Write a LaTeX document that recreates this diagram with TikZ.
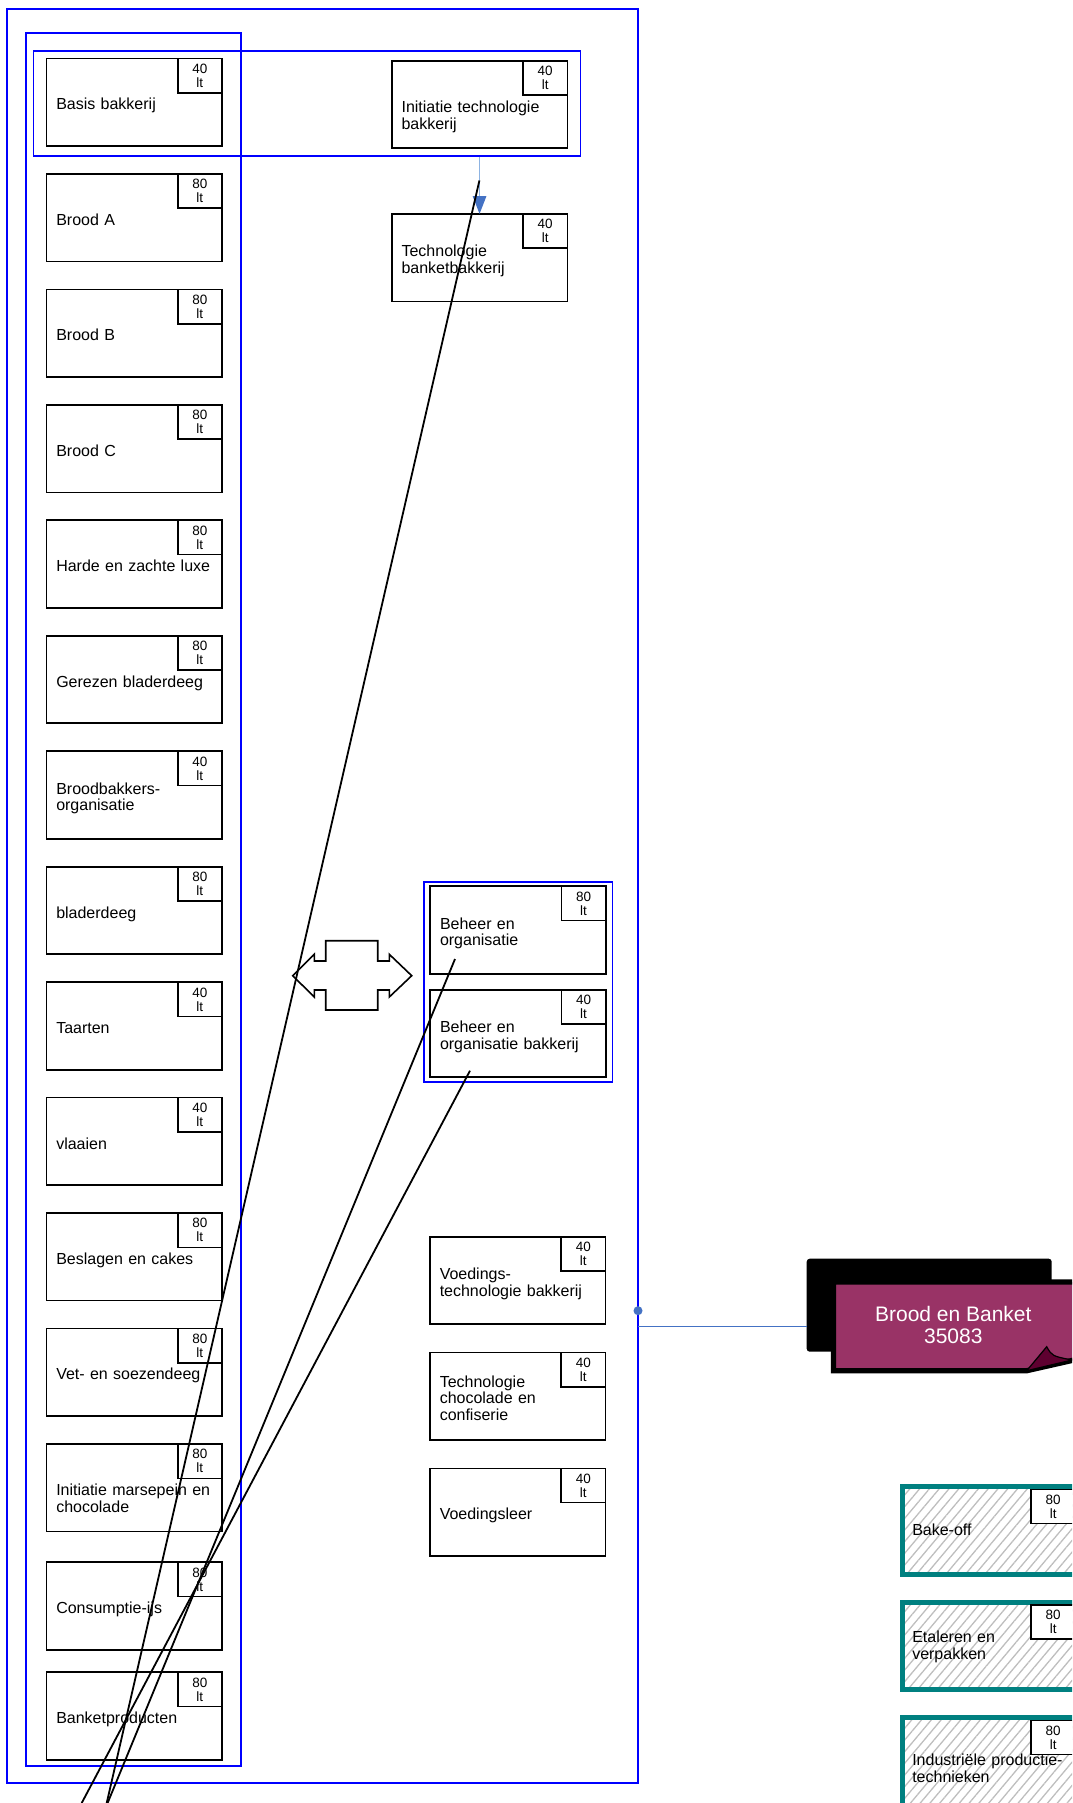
\documentclass[tikz,border=0pt]{standalone}
\usepackage{fontspec}
\setmainfont{Liberation Sans}
\usetikzlibrary{positioning,fit,arrows.meta,patterns.meta}
\definecolor{groupblue}{HTML}{0000FF}
\definecolor{linkblue}{HTML}{4472C4}
\definecolor{flowblue}{HTML}{8DB3E2}
\definecolor{plum}{HTML}{993366}
\definecolor{darkplum}{HTML}{5E0030}
\definecolor{tealedge}{HTML}{008080}
\definecolor{hatchgray}{HTML}{BEBEBE}
\tikzset{
  every node/.style={
    font=\fontsize{16pt}{16.7pt}\selectfont
  },
  course/.style={
    shape=rectangle,
    draw=black,
    line width=1.6pt,
    minimum height=87.5pt,
    text width=156pt,
    inner xsep=9.75pt,
    inner ysep=0pt,
    outer sep=0pt,
    align=left,
    execute at begin node=\strut,
    execute at end node=\strut
  },
  elective/.style={
    course,
    draw=tealedge,
    line width=5.3pt,
    pattern={Lines[angle=50,distance=7.5pt,line width=1.3pt]},
    pattern color=hatchgray
  },
  hours/.style={
    shape=rectangle,
    draw=black,
    line width=1.6pt,
    fill=white,
    minimum width=44.3pt,
    minimum height=34.3pt,
    inner sep=0pt,
    outer sep=0pt,
    anchor=north east,
    align=center,
    font=\fontsize{13.5pt}{14pt}\selectfont
  },
  midtext/.style={text height=20.2pt},
  lowtext/.style={text height=37.5pt},
  midnote/.style={text height=15.2pt},
  lownote/.style={text height=30.5pt},
  group/.style={
    draw=groupblue,
    line width=1.5pt
  },
  flow/.style={
    draw=flowblue,
    line width=1.5pt,
    -{Triangle[length=17.7pt,width=13.3pt,color=linkblue]}
  },
  link/.style={
    draw=linkblue,
    line width=1pt
  },
  wire/.style={
    draw=black,
    line width=1.8pt
  },
  junction/.style={
    shape=circle,
    fill=linkblue,
    minimum size=9pt,
    inner sep=0pt
  }
}

\begin{document}
\begin{tikzpicture}[x=1pt,y=-1pt]
  \path[use as bounding box] (0,0) rectangle (1072,1803);
  \clip (0,0) rectangle (1072,1803);

  % left column
  \foreach \y/\hrs/\txtpos/\txt [count=\i] in {
      102.25/40/midtext/Basis bakkerij,
      217.7/80/midtext/Brood A,
      333.2/80/midtext/Brood B,
      448.6/80/midtext/Brood C,
      564.0/80/midtext/Harde en zachte luxe,
      679.5/80/midtext/Gerezen bladerdeeg,
      795.0/40/midtext/{Broodbakkers-\\organisatie},
      910.5/80/midtext/bladerdeeg,
      1026.0/40/midtext/Taarten,
      1141.4/40/midtext/vlaaien,
      1256.8/80/midtext/Beslagen en cakes,
      1372.3/80/midtext/Vet- en soezendeeg,
      1487.8/80/lowtext/{Initiatie marsepein en\\chocolade},
      1606.0/80/midtext/Consumptie-ijs,
      1716.0/80/midtext/Banketproducten}
  {
    \node[course,\txtpos] (lc\i) at (134.25,\y) {\txt};
    \node[hours] (lc\i-hrs) at (lc\i.north east) {\hrs\\lt};
  }

  % right column
  \node[course,lowtext] (itb) at (479.55,104.5) {Initiatie technologie\\bakkerij};
  \node[hours] (itb-hrs) at (itb.north east) {40\\lt};
  \node[course,midtext,below=65.7pt of itb] (tbb) {Technologie\\banketbakkerij};
  \node[hours] (tbb-hrs) at (tbb.north east) {40\\lt};

  \node[course,midtext] (beo) at (518,930) {Beheer en\\organisatie};
  \node[hours] (beo-hrs) at (beo.north east) {80\\lt};
  \node[course,midtext,below=16pt of beo] (beob) {Beheer en\\organisatie bakkerij};
  \node[hours] (beob-hrs) at (beob.north east) {40\\lt};

  \node[course,midtext] (vtb) at (517.75,1280.5) {Voedings-\\technologie bakkerij};
  \node[hours] (vtb-hrs) at (vtb.north east) {40\\lt};
  \node[course,midtext,below=28.3pt of vtb] (tcc) {Technologie\\chocolade en\\confiserie};
  \node[hours] (tcc-hrs) at (tcc.north east) {40\\lt};
  \node[course,midtext,below=28.3pt of tcc] (vl) {Voedingsleer};
  \node[hours] (vl-hrs) at (vl.north east) {40\\lt};

  % groups
  \draw[group] (7,9) rectangle (638,1783);
  \draw[group] (26,33) rectangle (241,1766);
  \node[group,fit=(lc1)(itb),inner xsep=13pt,inner ysep=7.6pt] (toprow) {};
  \node[group,fit=(beo)(beob),inner xsep=6.5pt,inner ysep=4.5pt] (beheer) {};

  \draw[flow] (toprow.south -| tbb.north) -- (tbb.north);

  % double arrow
  \draw[line width=1.6pt,fill=white] (292.7,975.7) -- (314.3,954.3) -- (314.3,961)
    -- (325.7,961) -- (325.7,940.7) -- (377.7,940.7) -- (377.7,961) -- (389.3,961)
    -- (389.3,954.3) -- (411.7,975.7) -- (389.3,997) -- (389.3,990) -- (377.7,990)
    -- (377.7,1010) -- (325.7,1010) -- (325.7,990) -- (314.3,990) -- (314.3,997) -- cycle;

  % qualification
  \node[junction] (jp) at (638,1310.7) {};
  \coordinate (port) at (638,1326.7);
  \node[fill=black,rounded corners=3pt,minimum width=245pt,minimum height=93pt,inner sep=0pt] (bbback) at (929.2,1305.2) {};
  \draw[link] (port) -- (port -| bbback.west);
  \draw[line width=5.3pt,fill=plum] (833.4,1282) -- (1085,1282) -- (1085,1357.5)
    -- (1026.7,1370.7) -- (833.4,1370.7) -- cycle;
  \draw[line width=1.2pt,fill=darkplum] (1026.7,1370.7) .. controls (1036,1358) .. (1046.7,1346.7)
    .. controls (1052,1356) .. (1072,1360) -- cycle;
  \node[text=white,align=center,font=\fontsize{21pt}{21.7pt}\selectfont] (bbtext) at (953.3,1324.7) {Brood en Banket\\35083};

  % electives
  \node[elective,midnote] (bo) at (990.25,1530.4) {Bake-off};
  \node[hours,xshift=-2.65pt,yshift=-2.65pt] (bo-hrs) at (bo.north east) {80\\lt};
  \node[elective,midnote,below=28pt of bo] (ev) {Etaleren en\\verpakken};
  \node[hours,xshift=-2.65pt,yshift=-2.65pt] (ev-hrs) at (ev.north east) {80\\lt};
  \node[elective,lownote,below=28pt of ev] (ipt) {Industriële productie-\\technieken};
  \node[hours,xshift=-2.65pt,yshift=-2.65pt] (ipt-hrs) at (ipt.north east) {80\\lt};

  % loose connectors
  \coordinate (w1a) at (479.4,180.5);
  \coordinate (w1b) at (106.7,1803);
  \coordinate (w2a) at (455,959);
  \coordinate (w2b) at (107.6,1803);
  \coordinate (w3a) at (470,1070.7);
  \coordinate (w3b) at (81.7,1803);
  \draw[wire] (w1a) -- (w1b);
  \draw[wire] (w2a) -- (w2b);
  \draw[wire] (w3a) -- (w3b);
\end{tikzpicture}
\end{document}
